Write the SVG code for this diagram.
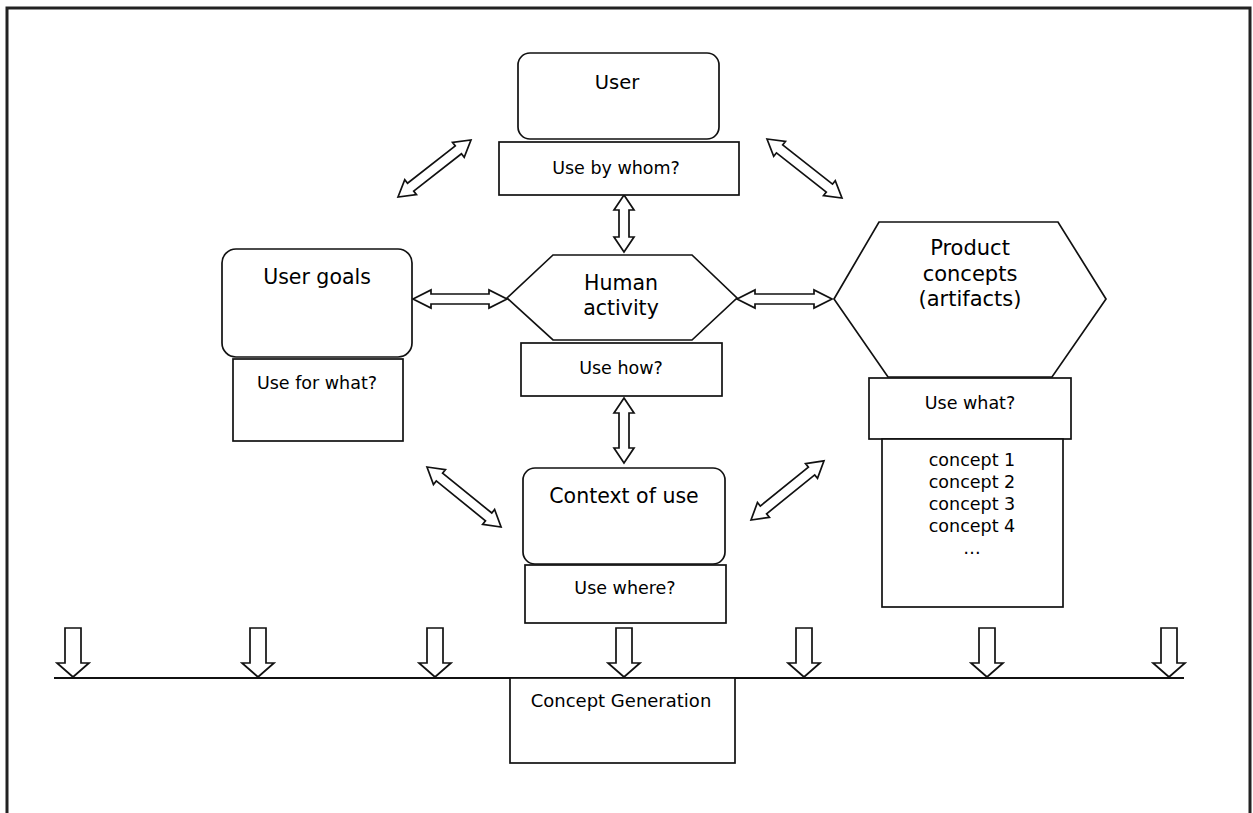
<svg xmlns="http://www.w3.org/2000/svg" width="1253" height="813" viewBox="0 0 1253 813">
  <style>
    .box { fill: #fff; stroke: #111; stroke-width: 1.7; }
    .arrow { fill: #fff; stroke: #111; stroke-width: 1.7; stroke-linejoin: miter; }
    .frame { fill: none; stroke: #222; stroke-width: 3; }
    .rule { stroke: #111; stroke-width: 2; }
    text { font-family: "DejaVu Sans", "Liberation Sans", sans-serif; fill: #000; text-anchor: middle; }
    .title { font-size: 20.5px; }
    .label { font-size: 17.5px; }
  </style>
  <defs>
    <!-- hollow block arrow pointing down, tip at origin -->
    <polygon id="down-arrow" class="arrow" points="-8,-49 8,-49 8,-14 16,-14 0,0 -16,-14 -8,-14"/>
  </defs>

  <rect width="1253" height="813" fill="#fff"/>
  <path class="frame" d="M7,813 V8 H1250 V813"/>

  <!-- connectors -->
  <g id="connectors">
    <!-- two-headed block arrows: local shape along x from 0 to L -->
    <polygon class="arrow" transform="translate(398,197) rotate(-38)" points="0,0 16,-9.5 16,-5 76.6,-5 76.6,-9.5 92.6,0 76.6,9.5 76.6,5 16,5 16,9.5"/>
    <polygon class="arrow" transform="translate(767,139) rotate(38.2)" points="0,0 16,-9.5 16,-5 79.4,-5 79.4,-9.5 95.4,0 79.4,9.5 79.4,5 16,5 16,9.5"/>
    <polygon class="arrow" transform="translate(624,195) rotate(90)" points="0,0 15,-10 15,-5 42,-5 42,-10 57,0 42,10 42,5 15,5 15,10"/>
    <polygon class="arrow" transform="translate(413,299)" points="0,0 18,-9 18,-5 76,-5 76,-9 94,0 76,9 76,5 18,5 18,9"/>
    <polygon class="arrow" transform="translate(737,299)" points="0,0 18,-9 18,-5 77,-5 77,-9 95,0 77,9 77,5 18,5 18,9"/>
    <polygon class="arrow" transform="translate(624,398) rotate(90)" points="0,0 15,-10 15,-5 50,-5 50,-10 65,0 50,10 50,5 15,5 15,10"/>
    <polygon class="arrow" transform="translate(427,467) rotate(39)" points="0,0 16,-9.5 16,-5 79.3,-5 79.3,-9.5 95.3,0 79.3,9.5 79.3,5 16,5 16,9.5"/>
    <polygon class="arrow" transform="translate(751,520) rotate(-39)" points="0,0 16,-9.5 16,-5 77.9,-5 77.9,-9.5 93.9,0 77.9,9.5 77.9,5 16,5 16,9.5"/>

    <!-- inputs feeding the concept generation line -->
    <line class="rule" x1="54" y1="678" x2="1184" y2="678"/>
    <use href="#down-arrow" x="73" y="677"/>
    <use href="#down-arrow" x="258" y="677"/>
    <use href="#down-arrow" x="435" y="677"/>
    <use href="#down-arrow" x="624" y="677"/>
    <use href="#down-arrow" x="804" y="677"/>
    <use href="#down-arrow" x="987" y="677"/>
    <use href="#down-arrow" x="1169" y="677"/>
  </g>

  <g id="user">
    <rect class="box" x="518" y="53" width="201" height="86" rx="12"/>
    <text class="title" x="617" y="89" style="font-size:19.5px">User</text>
    <rect class="box" x="499" y="142" width="240" height="53"/>
    <text class="label" x="616" y="174">Use by whom?</text>
  </g>

  <g id="user-goals">
    <rect class="box" x="222" y="249" width="190" height="108" rx="14"/>
    <text class="title" x="317" y="284">User goals</text>
    <rect class="box" x="233" y="359" width="170" height="82"/>
    <text class="label" x="317" y="389">Use for what?</text>
  </g>

  <g id="human-activity">
    <polygon class="box" points="507,298 553,255 692,255 737,298 692,340 553,340"/>
    <text class="title" x="621" y="290">Human</text>
    <text class="title" x="621" y="315">activity</text>
    <rect class="box" x="521" y="343" width="201" height="53"/>
    <text class="label" x="621" y="374">Use how?</text>
  </g>

  <g id="context-of-use">
    <rect class="box" x="523" y="468" width="202" height="96" rx="12"/>
    <text class="title" x="624" y="503">Context of use</text>
    <rect class="box" x="525" y="565" width="201" height="58"/>
    <text class="label" x="625" y="594">Use where?</text>
  </g>

  <g id="product-concepts">
    <polygon class="box" points="834,299 879,222 1058,222 1106,299 1052,377 888,377"/>
    <text class="title" x="970" y="255" style="font-size:21px">Product</text>
    <text class="title" x="970" y="281" style="font-size:21px">concepts</text>
    <text class="title" x="970" y="306" style="font-size:21px">(artifacts)</text>
    <rect class="box" x="869" y="378" width="202" height="61"/>
    <text class="label" x="970" y="409">Use what?</text>
    <rect class="box" x="882" y="439" width="181" height="168"/>
    <text class="label" x="972" y="466">concept 1</text>
    <text class="label" x="972" y="488">concept 2</text>
    <text class="label" x="972" y="510">concept 3</text>
    <text class="label" x="972" y="532">concept 4</text>
    <text class="label" x="972" y="554">…</text>
  </g>

  <g id="concept-generation">
    <rect class="box" x="510" y="678" width="225" height="85"/>
    <text class="label" x="621" y="707" style="font-size:18px">Concept Generation</text>
  </g>
</svg>
